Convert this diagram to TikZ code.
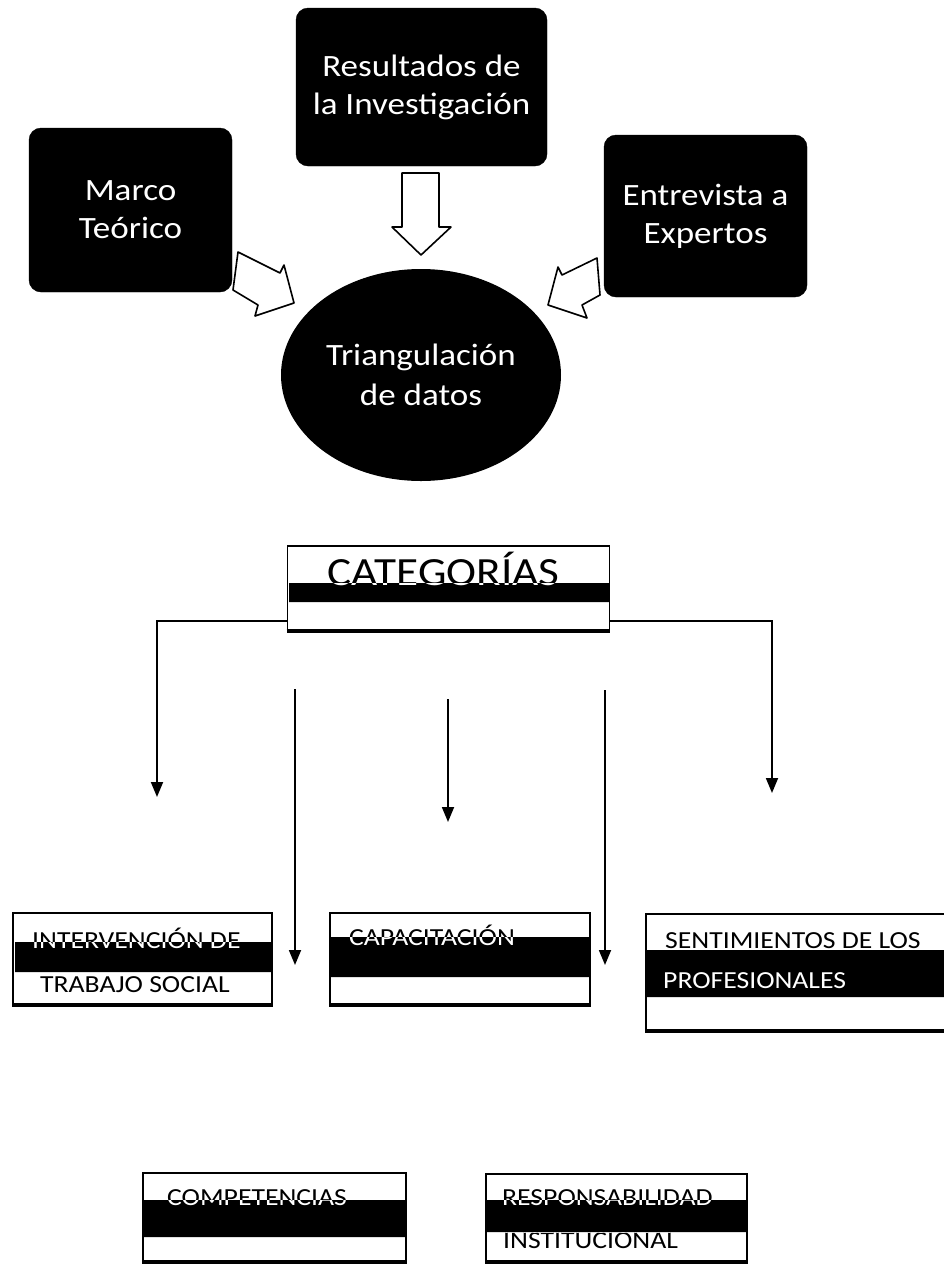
\documentclass[tikz,border=0pt]{standalone}
\usepackage{fontspec}
\setmainfont{Carlito}[FakeStretch=1.13]
\usetikzlibrary{shapes.geometric,arrows.meta}
\newcommand\alltexts[1]{%
  \node[cattxt] (catT#1) at (443.5,585) {CATEGORÍAS};
  \node[lbl] (intA#1) at (32,948) {INTERVENCIÓN DE};
  \node[lbl] (intB#1) at (40,992) {TRABAJO SOCIAL};
  \node[lbl] (capA#1) at (349,945) {CAPACITACIÓN};
  \node[lbl] (senA#1) at (665,948) {SENTIMIENTOS DE LOS};
  \node[lbl] (senB#1) at (663,988) {PROFESIONALES};
  \node[lbl] (comA#1) at (167,1205) {COMPETENCIAS};
  \node[lbl] (resA#1) at (502,1205) {RESPONSABILIDAD};
  \node[lbl] (resB#1) at (503,1248) {INSTITUCIONAL};
}
\newcommand\bandpath{%
  (289,583) rectangle (609,602)
  (15,942) rectangle (271,972)
  (331,937) rectangle (589,977)
  (647,950) rectangle (944,997)
  (144,1200) rectangle (405,1237)
  (487,1200) rectangle (746,1232)
}
\begin{document}
\begin{tikzpicture}[x=1pt,y=-1pt,
  darkbox/.style={draw=black,fill=black,rounded corners=12pt,text=white,align=center,inner sep=0pt,font=\fontsize{31}{38}\selectfont},
  catbox/.style={draw=black,line width=1.8pt,fill=white,inner sep=0pt},
  blk/.style={draw=black,fill=white,line width=1.6pt,line join=round},
  conn/.style={draw=black,line width=1.8pt,-{Triangle[length=15pt,width=12pt]}},
  lbl/.style={anchor=base west,inner sep=0pt,font=\fontsize{24.5}{30}\selectfont},
  cattxt/.style={anchor=base,inner sep=0pt,font=\fontsize{40}{48}\selectfont},
  shadow/.style={line width=3.5pt},
]
\useasboundingbox (0,0) rectangle (944,1264);
\clip (0,0) rectangle (944,1264);
\fill[white] (0,0) rectangle (944,1264);

% top sources
\node[darkbox,minimum width=251pt,minimum height=158pt] (res) at (421.5,87) {Resultados de\\la Investigación};
\node[darkbox,minimum width=203pt,minimum height=164pt] (mar) at (130.5,210) {Marco\\Teórico};
\node[darkbox,minimum width=203pt,minimum height=162pt] (ent) at (705.5,216) {Entrevista a\\Expertos};
\node[ellipse,fill=black,text=white,align=center,inner sep=0pt,minimum width=280pt,minimum height=212pt,font=\fontsize{31}{40}\selectfont] (tri) at (421,375) {Triangulación\\de datos};

% hollow block arrows
\draw[blk] (402,173) -- (439,173) -- (439,227) -- (451,227) -- (421,255) -- (392,227) -- (402,227) -- cycle;
\draw[blk] (238,252) -- (280,273) -- (284,265) -- (294,303) -- (255,316) -- (258,305) -- (233,290) -- cycle;
\draw[blk] (597,258) -- (562,275) -- (558,267) -- (548,305) -- (587,318) -- (582,305) -- (600,295) -- cycle;

% boxes
\node[catbox,minimum width=322pt,minimum height=84pt] (cat) at (448.5,588) {};
\node[catbox,minimum width=259pt,minimum height=91pt] (intBox) at (142.5,958.5) {};
\node[catbox,minimum width=260pt,minimum height=91pt] (capBox) at (460,958.5) {};
\node[catbox,minimum width=304pt,minimum height=116pt] (senBox) at (798,972) {};
\node[catbox,minimum width=263pt,minimum height=88pt] (comBox) at (274.5,1217) {};
\node[catbox,minimum width=261pt,minimum height=87pt] (resBox) at (616.5,1217.5) {};
\foreach \b in {cat,intBox,capBox,senBox,comBox,resBox}
  \draw[shadow] (\b.south west) -- (\b.south east);

% dark bands and texts
\fill[black] \bandpath;
\alltexts{}
\begin{scope}
  \clip \bandpath;
  \begin{scope}[every node/.append style={text=white}]
    \alltexts{W}
  \end{scope}
\end{scope}

% connectors
\coordinate (aL) at (157,797);
\coordinate (aR) at (772,793);
\coordinate (m1s) at (295,689);
\coordinate (m1e) at (295,965);
\coordinate (m2s) at (448,699);
\coordinate (m2e) at (448,822);
\coordinate (m3s) at (605,690);
\coordinate (m3e) at (605,965);
\draw[conn] (cat.west |- 0,621) -| (aL);
\draw[conn] (cat.east |- 0,621) -| (aR);
\draw[conn] (m1s) -- (m1e);
\draw[conn] (m2s) -- (m2e);
\draw[conn] (m3s) -- (m3e);
\end{tikzpicture}
\end{document}
